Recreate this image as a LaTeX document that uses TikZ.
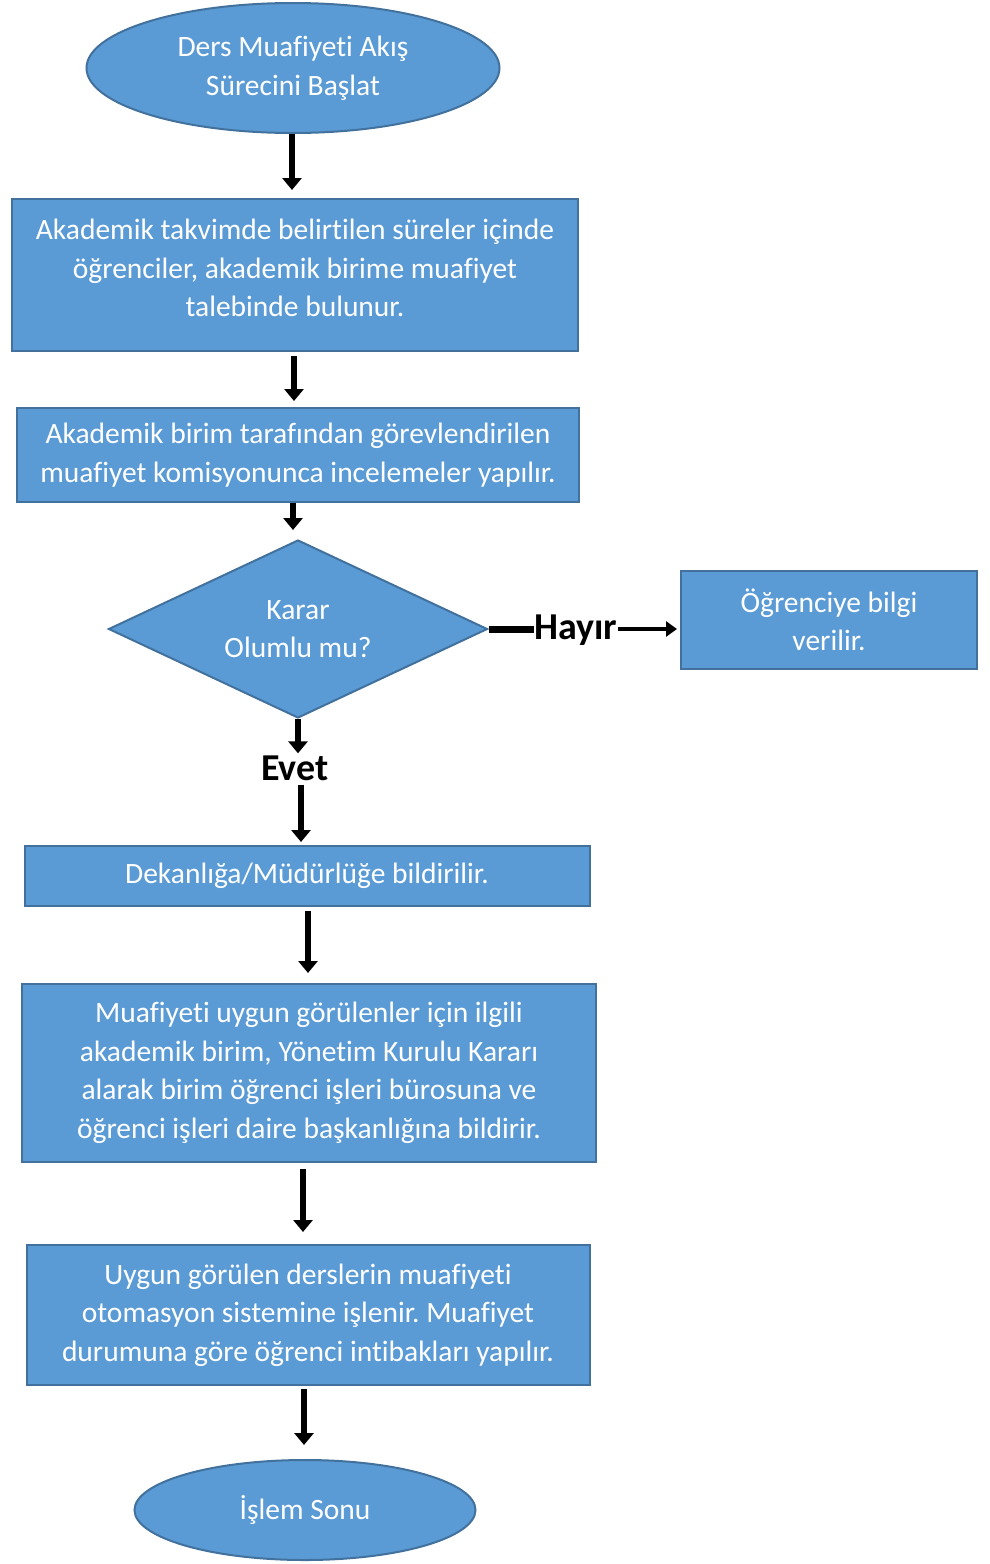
\documentclass[tikz,border=0pt]{standalone}
\usepackage{fontspec}
\setmainfont[Ligatures=NoCommon]{Carlito}
\frenchspacing
\usetikzlibrary{shapes.geometric,arrows.meta}
\definecolor{boxfill}{HTML}{5B9BD5}
\definecolor{boxline}{HTML}{41719C}
\tikzset{
  base/.style={fill=boxfill, draw=boxline, line width=2pt, text=white, inner sep=0pt,
    align=center, font=\fontsize{29.5}{38.5}\selectfont},
  term/.style={base, ellipse},
  proc/.style={base, rectangle},
  decide/.style={base, diamond, shape aspect=2.13},
  txt/.style={text=white, align=center, inner sep=0pt, font=\fontsize{29.5}{38.5}\selectfont},
  flow/.style={line width=6pt, -{Triangle[width=19pt,length=12pt]}},
  lbl/.style={font=\bfseries\fontsize{38}{40}\selectfont, inner sep=0pt}
}
\begin{document}
\begin{tikzpicture}[x=1pt,y=-1pt]
\useasboundingbox (0,0) rectangle (989,1564);

% start and end terminals
\node[term, minimum width=413pt, minimum height=130pt] (start) at (293,68)
  {Ders Muafiyeti Akış\\Sürecini Başlat};

% request box (text sits a little above the middle)
\node[proc, minimum width=566pt, minimum height=152pt] (req) at (295,275) {};
\node[txt] (reqt) at (295,268)
  {Akademik takvimde belirtilen süreler içinde\\öğrenciler, akademik birime muafiyet\\talebinde bulunur.};

\node[proc, minimum width=562pt, minimum height=94pt] (review) at (298,455)
  {Akademik birim tarafından görevlendirilen\\muafiyet komisyonunca incelemeler yapılır.};

\node[decide, minimum width=379pt, minimum height=178pt] (dec) at (298,629)
  {Karar\\Olumlu mu?};

\node[proc, minimum width=296pt, minimum height=98pt] (info) at (829,620)
  {Öğrenciye bilgi\\verilir.};

\node[proc, minimum width=565pt, minimum height=60pt] (dean) at (307,876)
  {Dekanlığa/Müdürlüğe bildirilir.};

\node[proc, minimum width=574pt, minimum height=178pt] (board) at (309,1073)
  {Muafiyeti uygun görülenler için ilgili\\akademik birim, Yönetim Kurulu Kararı\\alarak birim öğrenci işleri bürosuna ve\\öğrenci işleri daire başkanlığına bildirir.};

\node[proc, minimum width=563pt, minimum height=140pt] (system) at (308,1315)
  {Uygun görülen derslerin muafiyeti\\otomasyon sistemine işlenir. Muafiyet\\durumuna göre öğrenci intibakları yapılır.};

\node[term, minimum width=341pt, minimum height=100pt] (finish) at (305,1510)
  {İşlem Sonu};

% branch labels
\node[lbl] (no) at (576,630) {Hayır};
\node[lbl] (yes) at (295,768) {Evet};
\coordinate (noin) at (dec.east);

% connectors, kept vertical below each source
\draw[flow, shorten >=8pt] ([xshift=-1pt]start.south) -- ([xshift=-1pt]start.south |- req.north);
\draw[flow, shorten <=4pt, shorten >=6pt] ([xshift=-1pt]req.south) -- ([xshift=-1pt]req.south |- review.north);
\draw[flow, shorten >=9pt] ([xshift=-5pt]review.south) -- ([xshift=-5pt]review.south |- dec.north);
\draw[line width=7pt] (noin) -- (noin -| no.west);
\draw[line width=4.5pt, -{Triangle[width=15pt,length=11pt]}, shorten >=3pt] (noin -| no.east) -- (noin -| info.west);
\draw[flow, shorten >=2pt] (dec.south) -- (dec.south |- yes.north);
\draw[flow, shorten <=4pt, shorten >=3pt] ([xshift=6pt]yes.south) -- ([xshift=6pt]yes.south |- dean.north);
\draw[flow, shorten <=4pt, shorten >=10pt] ([xshift=1pt]dean.south) -- ([xshift=1pt]dean.south |- board.north);
\draw[flow, shorten <=6pt, shorten >=12pt] ([xshift=-6pt]board.south) -- ([xshift=-6pt]board.south |- system.north);
\draw[flow, shorten <=3pt, shorten >=14pt] ([xshift=-4pt]system.south) -- ([xshift=-4pt]system.south |- finish.north);
\end{tikzpicture}
\end{document}
